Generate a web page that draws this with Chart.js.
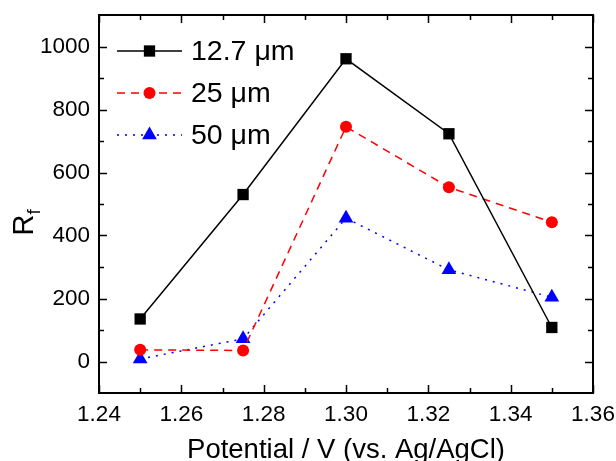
<!DOCTYPE html>
<html><head><meta charset="utf-8">
<script src="https://cdn.jsdelivr.net/npm/chart.js@4"></script>
<style>html,body{margin:0;padding:0;background:#fff;}#wrap{width:616px;height:461px;}</style>
</head><body><div id="wrap"><canvas id="c" width="616" height="461"></canvas></div>
<script>
const potentials = [1.25, 1.275, 1.30, 1.325, 1.35];
const series127 = [135, 530, 961, 723, 108];
const series25 = [37, 35, 745, 553, 442];
const series50 = [8, 72, 455, 291, 204];
const seriesNames = ['12.7 \u03bcm', '25 \u03bcm', '50 \u03bcm'];
const xTicks = [1.24, 1.26, 1.28, 1.30, 1.32, 1.34, 1.36];
const yTicks = [0, 200, 400, 600, 800, 1000];
const xMinor = [1.25, 1.27, 1.29, 1.31, 1.33, 1.35];
const yMinor = [100, 300, 500, 700, 900];
const FONT = "'Liberation Sans', Arial, sans-serif";

const pts = arr => potentials.map((x, i) => ({x, y: arr[i]}));

const styles = [
  {color:'#000000', dash:[], point:'rect', radius:8},
  {color:'#ff0000', dash:[8,6], point:'circle', radius:6},
  {color:'#0000ff', dash:[2,6], point:'triangle', radius:8.5}
];

function drawMarker(ctx, style, x, y, r) {
  ctx.save();
  ctx.fillStyle = style.color;
  ctx.setLineDash([]);
  ctx.beginPath();
  if (style.point === 'rect') {
    const s = r * Math.SQRT2 / 2;
    ctx.rect(x - s, y - s, 2 * s, 2 * s);
  } else if (style.point === 'circle') {
    ctx.arc(x, y, r, 0, Math.PI * 2);
  } else {
    ctx.moveTo(x, y - r);
    ctx.lineTo(x + r * Math.sin(Math.PI * 2 / 3), y + r / 2);
    ctx.lineTo(x - r * Math.sin(Math.PI * 2 / 3), y + r / 2);
    ctx.closePath();
  }
  ctx.fill();
  ctx.restore();
}

const framePlugin = {
  id: 'frame',
  afterDraw(chart) {
    const ctx = chart.ctx, a = chart.chartArea;
    const xs = chart.scales.x, ys = chart.scales.y;
    ctx.save();
    ctx.strokeStyle = '#000';
    ctx.lineWidth = 2;
    ctx.setLineDash([]);
    ctx.strokeRect(a.left, a.top, a.right - a.left, a.bottom - a.top);
    ctx.lineWidth = 1.5;
    ctx.beginPath();
    const tickX = (v, len) => {
      const px = Math.round(xs.getPixelForValue(v)) + 0.5;
      ctx.moveTo(px, a.bottom); ctx.lineTo(px, a.bottom - len);
      ctx.moveTo(px, a.top); ctx.lineTo(px, a.top + len);
    };
    const tickY = (v, len) => {
      const py = Math.round(ys.getPixelForValue(v)) + 0.5;
      ctx.moveTo(a.left, py); ctx.lineTo(a.left + len, py);
      ctx.moveTo(a.right, py); ctx.lineTo(a.right - len, py);
    };
    xTicks.forEach(v => tickX(v, 8));
    xMinor.forEach(v => tickX(v, 5));
    yTicks.forEach(v => tickY(v, 8));
    yMinor.forEach(v => tickY(v, 5));
    ctx.stroke();

    // legend
    const lx0 = 117, lx1 = 182, ly0 = 51, dy = 42;
    styles.forEach((s, i) => {
      const y = ly0 + i * dy;
      ctx.save();
      ctx.strokeStyle = s.color;
      ctx.lineWidth = 1.5;
      ctx.setLineDash(s.dash);
      ctx.beginPath(); ctx.moveTo(lx0, y); ctx.lineTo(lx1, y); ctx.stroke();
      ctx.restore();
      drawMarker(ctx, s, (lx0 + lx1) / 2, y, s.radius);
      ctx.fillStyle = '#000';
      ctx.font = '28.5px ' + FONT;
      ctx.textBaseline = 'middle';
      ctx.textAlign = 'left';
      ctx.fillText(seriesNames[i], 191, y + 1);
    });

    // y axis title R_f
    ctx.save();
    ctx.translate(33, 222);
    ctx.rotate(-Math.PI / 2);
    ctx.fillStyle = '#000';
    ctx.textBaseline = 'alphabetic';
    ctx.textAlign = 'left';
    ctx.font = '29px ' + FONT;
    const w = ctx.measureText('R').width;
    ctx.fillText('R', -w / 2 - 3, 0);
    ctx.font = '19px ' + FONT;
    ctx.fillText('f', w / 2 - 3, 7);
    ctx.restore();
    ctx.restore();
  }
};

new Chart(document.getElementById('c'), {
  type: 'line',
  data: {
    datasets: [series127, series25, series50].map((arr, i) => ({
      label: seriesNames[i],
      data: pts(arr),
      borderColor: styles[i].color,
      backgroundColor: styles[i].color,
      borderWidth: 1.5,
      borderDash: styles[i].dash,
      pointStyle: styles[i].point,
      pointRadius: styles[i].radius,
      pointHoverRadius: styles[i].radius,
      pointBorderWidth: 0,
      tension: 0,
      clip: false
    }))
  },
  options: {
    responsive: false,
    animation: false,
    devicePixelRatio: 1,
    layout: {padding: {top: 15, right: 23, left: 0, bottom: 0}},
    plugins: {legend: {display: false}, tooltip: {enabled: false}},
    scales: {
      x: {
        type: 'linear', min: 1.24, max: 1.36,
        afterBuildTicks: s => { s.ticks = xTicks.map(v => ({value: v})); },
        afterFit: s => { s.height = 68; s.paddingLeft = 0; s.paddingRight = 0; },
        grid: {display: false, drawTicks: false},
        border: {display: false},
        ticks: {padding: 8, color: '#000', font: {family: FONT, size: 22.5},
                callback: v => Number(v).toFixed(2), maxRotation: 0, autoSkip: false},
        title: {display: true, text: 'Potential / V (vs. Ag/AgCl)', color: '#000',
                font: {family: FONT, size: 27.5}, padding: {top: 0, bottom: -6}}
      },
      y: {
        type: 'linear', min: -100, max: 1100,
        afterBuildTicks: s => { s.ticks = yTicks.map(v => ({value: v})); },
        afterFit: s => { s.width = 99; s.paddingTop = 0; s.paddingBottom = 0; },
        grid: {display: false, drawTicks: false},
        border: {display: false},
        ticks: {padding: 9, color: '#000', font: {family: FONT, size: 22.5}, autoSkip: false,
                callback: v => String(v)}
      }
    }
  },
  plugins: [framePlugin]
});
</script>
</body></html>
